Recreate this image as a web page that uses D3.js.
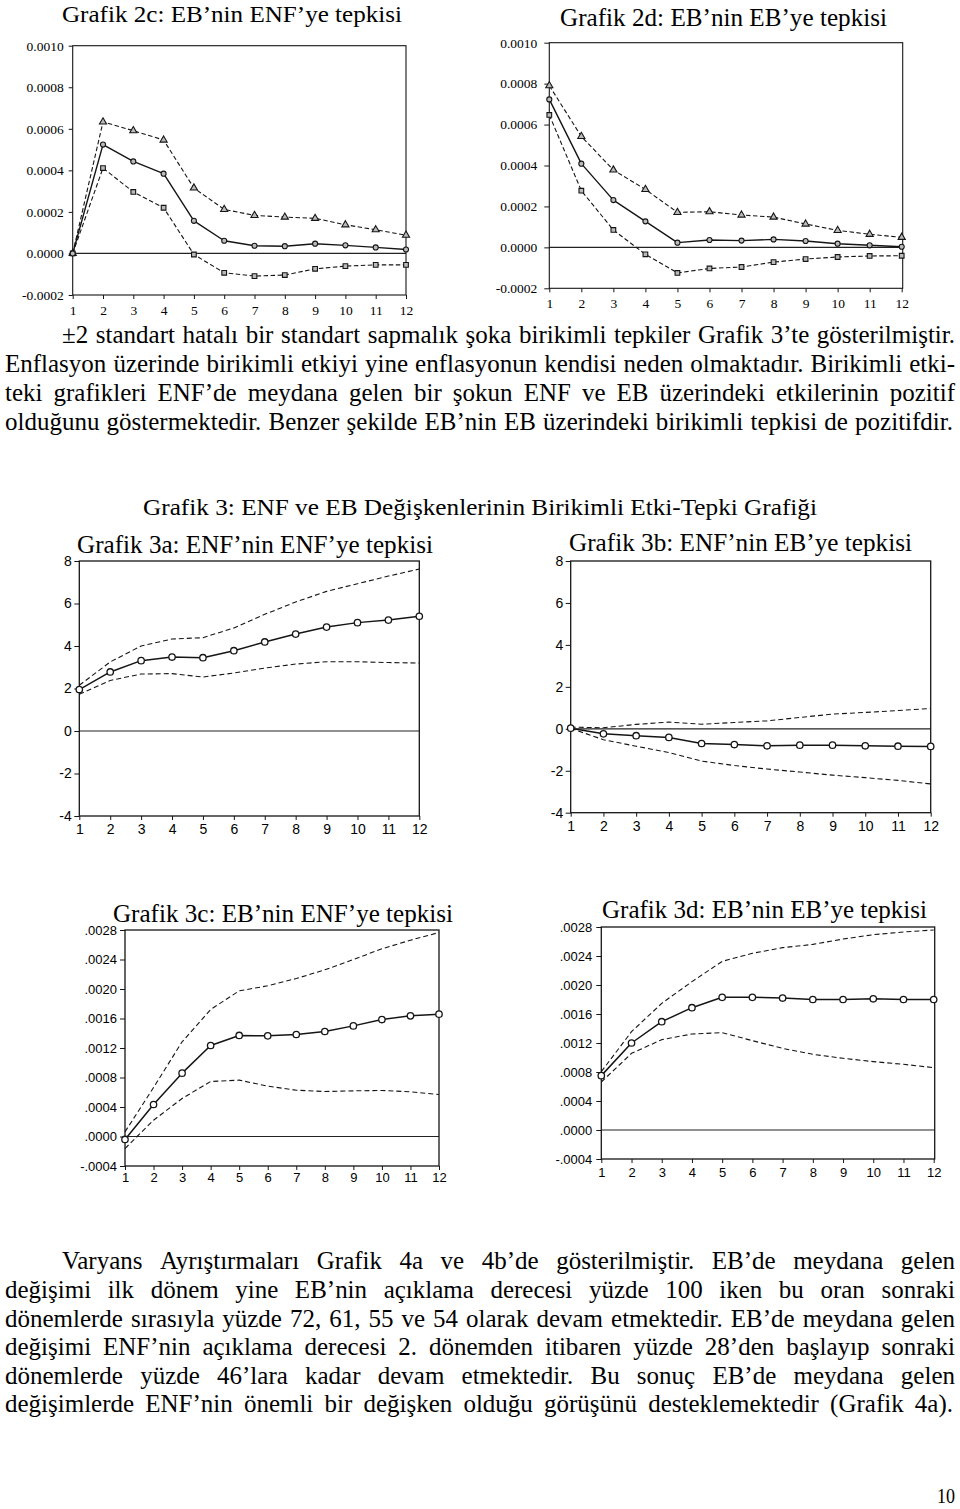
<!DOCTYPE html>
<html><head><meta charset="utf-8">
<script src="https://cdn.jsdelivr.net/npm/d3@7"></script>
<style>html,body{margin:0;padding:0;background:#fff}svg{display:block}</style>
</head><body>
<svg id="page" width="960" height="1509"></svg>
<script>
// ---------- DATA ----------
const periods = [1, 2, 3, 4, 5, 6, 7, 8, 9, 10, 11, 12];

// Grafik 2c: EB'nin ENF'ye tepkisi
const c2c_mid = [0, 0.000524, 0.000443, 0.000384, 0.000157, 0.000061, 0.000037, 0.000035, 0.000047, 0.000039, 0.000029, 0.000019];
const c2c_up  = [0, 0.000633, 0.000591, 0.000546, 0.000315, 0.000212, 0.000183, 0.000175, 0.000169, 0.000138, 0.000114, 0.000088];
const c2c_lo  = [0, 0.000411, 0.000296, 0.000220, -0.000005, -0.000093, -0.000109, -0.000104, -0.000074, -0.000061, -0.000055, -0.000055];

// Grafik 2d: EB'nin EB'ye tepkisi
const c2d_mid = [0.000723, 0.000409, 0.000231, 0.000127, 0.000023, 0.000036, 0.000033, 0.000039, 0.000031, 0.000018, 0.000010, 0.000003];
const c2d_up  = [0.000790, 0.000542, 0.000378, 0.000283, 0.000171, 0.000174, 0.000158, 0.000148, 0.000114, 0.000083, 0.000064, 0.000049];
const c2d_lo  = [0.000647, 0.000277, 0.000085, -0.000034, -0.000125, -0.000103, -0.000096, -0.000072, -0.000057, -0.000047, -0.000042, -0.000041];

// Grafik 3a: ENF'nin ENF'ye tepkisi
const c3a_mid = [1.95, 2.78, 3.31, 3.48, 3.45, 3.78, 4.19, 4.56, 4.89, 5.10, 5.22, 5.40];
const c3a_up  = [2.15, 3.25, 4.00, 4.33, 4.39, 4.85, 5.49, 6.07, 6.57, 6.93, 7.29, 7.62];
const c3a_lo  = [1.73, 2.38, 2.68, 2.70, 2.54, 2.73, 2.96, 3.15, 3.26, 3.26, 3.22, 3.20];

// Grafik 3b: ENF'nin EB'ye tepkisi
const c3b_mid = [0.03, -0.24, -0.33, -0.41, -0.70, -0.75, -0.81, -0.78, -0.78, -0.81, -0.83, -0.84];
const c3b_up  = [0.08, 0.05, 0.21, 0.32, 0.22, 0.30, 0.38, 0.54, 0.70, 0.78, 0.87, 0.97];
const c3b_lo  = [0.02, -0.52, -0.83, -1.13, -1.54, -1.75, -1.92, -2.06, -2.21, -2.33, -2.46, -2.63];

// Grafik 3c: EB'nin ENF'ye tepkisi
const c3c_mid = [-0.00004, 0.000434, 0.000859, 0.001234, 0.00137, 0.001365, 0.001383, 0.001424, 0.0015, 0.001586, 0.001636, 0.001659];
const c3c_up  = [0.000063, 0.000664, 0.001284, 0.001722, 0.001975, 0.002043, 0.002142, 0.00226, 0.0024, 0.002545, 0.002662, 0.002766];
const c3c_lo  = [-0.000163, 0.000221, 0.000515, 0.000746, 0.000764, 0.000683, 0.000628, 0.00061, 0.000619, 0.000624, 0.000606, 0.00057];

// Grafik 3d: EB'nin EB'ye tepkisi
const c3d_mid = [0.00075, 0.0012, 0.001494, 0.001687, 0.00183, 0.00183, 0.00182, 0.0018, 0.0018, 0.00181, 0.0018, 0.0018];
const c3d_up  = [0.000805, 0.001356, 0.001747, 0.002046, 0.002326, 0.002437, 0.002515, 0.00256, 0.002634, 0.002694, 0.002731, 0.002759];
const c3d_lo  = [0.000662, 0.001057, 0.001246, 0.001324, 0.001343, 0.001232, 0.001126, 0.001044, 0.000989, 0.000943, 0.000906, 0.00086];

// Tick values
const ticks2   = [-0.0002, 0, 0.0002, 0.0004, 0.0006, 0.0008, 0.0010];
const ticks3ab = [-4, -2, 0, 2, 4, 6, 8];
const ticks3cd = [-0.0004, 0, 0.0004, 0.0008, 0.0012, 0.0016, 0.0020, 0.0024, 0.0028];

// Texts
const title2c = "Grafik 2c: EB\u2019nin ENF\u2019ye tepkisi";
const title2d = "Grafik 2d: EB\u2019nin EB\u2019ye tepkisi";
const heading3 = "Grafik 3: ENF ve EB De\u011fi\u015fkenlerinin Birikimli Etki-Tepki Grafi\u011fi";
const title3a = "Grafik 3a: ENF\u2019nin ENF\u2019ye tepkisi";
const title3b = "Grafik 3b: ENF\u2019nin EB\u2019ye tepkisi";
const title3c = "Grafik 3c: EB\u2019nin ENF\u2019ye tepkisi";
const title3d = "Grafik 3d: EB\u2019nin EB\u2019ye tepkisi";
const para1 = [
  "\u00b12 standart hatal\u0131 bir standart sapmal\u0131k \u015foka birikimli tepkiler Grafik 3\u2019te g\u00f6sterilmi\u015ftir.",
  "Enflasyon \u00fczerinde birikimli etkiyi yine enflasyonun kendisi neden olmaktad\u0131r. Birikimli etki-",
  "teki grafikleri ENF\u2019de meydana gelen bir \u015fokun ENF ve EB \u00fczerindeki etkilerinin pozitif",
  "oldu\u011funu g\u00f6stermektedir. Benzer \u015fekilde EB\u2019nin EB \u00fczerindeki birikimli tepkisi de pozitifdir."
];
const para2 = [
  "Varyans Ayr\u0131\u015ft\u0131rmalar\u0131 Grafik 4a ve 4b\u2019de g\u00f6sterilmi\u015ftir. EB\u2019de meydana gelen",
  "de\u011fi\u015fimi ilk d\u00f6nem yine EB\u2019nin a\u00e7\u0131klama derecesi y\u00fczde 100 iken bu oran sonraki",
  "d\u00f6nemlerde s\u0131ras\u0131yla y\u00fczde 72, 61, 55 ve 54 olarak devam etmektedir. EB\u2019de meydana gelen",
  "de\u011fi\u015fimi ENF\u2019nin a\u00e7\u0131klama derecesi 2. d\u00f6nemden itibaren y\u00fczde 28\u2019den ba\u015flay\u0131p sonraki",
  "d\u00f6nemlerde y\u00fczde 46\u2019lara kadar devam etmektedir. Bu sonu\u00e7 EB\u2019de meydana gelen",
  "de\u011fi\u015fimlerde ENF\u2019nin \u00f6nemli bir de\u011fi\u015fken oldu\u011fu g\u00f6r\u00fc\u015f\u00fcn\u00fc desteklemektedir (Grafik 4a)."
];
const pageNumber = "10";

// ---------- DRAWING ----------
const svg = d3.select("#page");
const SERIF = "'Liberation Serif','Times New Roman',Times,serif";
const SANS = "'Liberation Sans',Arial,Helvetica,sans-serif";
const INK = "#151515";

const fmt2 = d => d.toFixed(4);
const fmt3ab = d => String(d);
const fmt3cd = d => d.toFixed(4).replace("0.", ".");

function fitText(str, x0, x1, yb, fs) {
  const t = svg.append("text")
    .attr("x", x0).attr("y", yb)
    .attr("font-family", SERIF).attr("font-size", fs).attr("fill", "#000")
    .text(str);
  if (x1 != null) t.attr("textLength", x1 - x0).attr("lengthAdjust", "spacingAndGlyphs");
  return t;
}

function justifyLine(str, x0, x1, yb, fs, hs) {
  const words = str.split(" ");
  const g = svg.append("g").attr("font-family", SERIF).attr("font-size", fs).attr("fill", "#000");
  const els = words.map(w => g.append("text").attr("y", yb).text(w));
  let widths = els.map(e => e.node().getComputedTextLength() * hs);
  const total = d3.sum(widths);
  const n = words.length;
  let gap = n > 1 ? (x1 - x0 - total) / (n - 1) : 0;
  const minGap = fs * 0.24;
  if (gap < minGap) {
    const f = (x1 - x0 - minGap * (n - 1)) / total;
    widths = widths.map(w => w * f);
    gap = minGap;
  }
  let x = x0;
  els.forEach((e, i) => {
    e.attr("x", x).attr("textLength", widths[i]).attr("lengthAdjust", "spacingAndGlyphs");
    x += widths[i] + gap;
  });
}

function drawChart(c) {
  const g = svg.append("g");
  const x = d3.scaleLinear().domain([periods[0], periods[periods.length - 1]]).range([c.x0, c.x1]);
  const y = d3.scaleLinear().domain([c.ticks[0], c.ticks[c.ticks.length - 1]]).range([c.yb, c.yt]);

  g.append("line").attr("x1", c.x0).attr("x2", c.fx1).attr("y1", y(0)).attr("y2", y(0))
    .attr("stroke", "#222").attr("stroke-width", 1.2);

  const ya = g.append("g").attr("transform", `translate(${c.x0},0)`)
    .call(d3.axisLeft(y).tickValues(c.ticks).tickFormat(c.fmt).tickSize(c.yTick).tickPadding(c.yPad));
  const xa = g.append("g").attr("transform", `translate(0,${c.yb})`)
    .call(d3.axisBottom(x).tickValues(periods).tickFormat(d3.format("d")).tickSize(c.xTick).tickPadding(c.xPad));
  [ya, xa].forEach(a => {
    a.select(".domain").remove();
    a.attr("font-family", c.font).attr("font-size", c.fs);
    a.selectAll("line").attr("stroke", INK);
    a.selectAll("text").attr("fill", "#000");
  });

  g.append("rect").attr("x", c.x0).attr("y", c.yt).attr("width", c.fx1 - c.x0).attr("height", c.yb - c.yt)
    .attr("fill", "none").attr("stroke", INK).attr("stroke-width", c.frameW);

  const line = d3.line().x((d, i) => x(periods[i])).y(d => y(d));
  const series = [
    { data: c.up, dash: c.dash, w: c.dashW, sym: d3.symbolTriangle },
    { data: c.lo, dash: c.dash, w: c.dashW, sym: d3.symbolSquare },
    { data: c.mid, dash: null, w: c.midW, sym: d3.symbolCircle }
  ];
  series.forEach(s => {
    g.append("path").attr("d", line(s.data)).attr("fill", "none")
      .attr("stroke", INK).attr("stroke-width", s.w)
      .attr("stroke-dasharray", s.dash).attr("stroke-linejoin", "round");
  });
  if (c.allMarkers) {
    series.forEach(s => {
      g.append("g").selectAll("path").data(s.data).join("path")
        .attr("transform", (d, i) => `translate(${x(periods[i])},${y(d)})`)
        .attr("d", d3.symbol().type(s.sym).size(s.sym === d3.symbolCircle ? 20 : 22))
        .attr("fill", "#bbb").attr("stroke", INK).attr("stroke-width", 1.1);
    });
  } else {
    g.append("g").selectAll("circle").data(c.mid).join("circle")
      .attr("cx", (d, i) => x(periods[i])).attr("cy", d => y(d)).attr("r", 3.2)
      .attr("fill", "#fff").attr("stroke", INK).attr("stroke-width", 1.3);
  }
}

drawChart({ x0: 72.7, x1: 406, fx1: 406, yt: 45.7, yb: 295, ticks: ticks2, fmt: fmt2,
  mid: c2c_mid, up: c2c_up, lo: c2c_lo, font: SERIF, fs: 13.5, yTick: 4, yPad: 5, xTick: 4, xPad: 6,
  dash: "4.5,2.5", dashW: 1.1, midW: 1.4, frameW: 1.1, allMarkers: true });
drawChart({ x0: 549.3, x1: 901.7, fx1: 902.7, yt: 42.7, yb: 288.3, ticks: ticks2, fmt: fmt2,
  mid: c2d_mid, up: c2d_up, lo: c2d_lo, font: SERIF, fs: 13.5, yTick: 5, yPad: 7, xTick: 4, xPad: 6,
  dash: "4.5,2.5", dashW: 1.1, midW: 1.4, frameW: 1.1, allMarkers: true });

drawChart({ x0: 79.3, x1: 419.3, fx1: 419.3, yt: 561, yb: 816, ticks: ticks3ab, fmt: fmt3ab,
  mid: c3a_mid, up: c3a_up, lo: c3a_lo, font: SANS, fs: 14, yTick: 5, yPad: 2.5, xTick: 4, xPad: 4.5,
  dash: "5,3", dashW: 1.1, midW: 1.5, frameW: 1.3, allMarkers: false });
drawChart({ x0: 570.7, x1: 930.7, fx1: 930.7, yt: 561, yb: 812.7, ticks: ticks3ab, fmt: fmt3ab,
  mid: c3b_mid, up: c3b_up, lo: c3b_lo, font: SANS, fs: 14, yTick: 5, yPad: 2.5, xTick: 4, xPad: 4.5,
  dash: "5,3", dashW: 1.1, midW: 1.5, frameW: 1.3, allMarkers: false });
drawChart({ x0: 125, x1: 439, fx1: 439, yt: 930, yb: 1166, ticks: ticks3cd, fmt: fmt3cd,
  mid: c3c_mid, up: c3c_up, lo: c3c_lo, font: SANS, fs: 13, yTick: 5, yPad: 3, xTick: 4, xPad: 2.5,
  dash: "5,3", dashW: 1.1, midW: 1.5, frameW: 1.3, allMarkers: false });
drawChart({ x0: 601.3, x1: 933.7, fx1: 934.7, yt: 927, yb: 1159, ticks: ticks3cd, fmt: fmt3cd,
  mid: c3d_mid, up: c3d_up, lo: c3d_lo, font: SANS, fs: 13, yTick: 5, yPad: 4, xTick: 4, xPad: 4.5,
  dash: "5,3", dashW: 1.1, midW: 1.5, frameW: 1.3, allMarkers: false });

// Titles
fitText(title2c, 62, 402, 22, 24);
fitText(title2d, 560, 887, 26, 24.5);
fitText(heading3, 143, 817, 515, 24);
fitText(title3a, 77, 433, 553, 25);
fitText(title3b, 569, 912, 551, 25);
fitText(title3c, 113, 453, 922, 25);
fitText(title3d, 602, 927, 918, 25);

// Paragraphs
const p1Base = [343, 372, 401, 430];
para1.forEach((s, i) => justifyLine(s, i === 0 ? 62 : 5, i === 3 ? 953 : 955, p1Base[i], 24.5, 1.02));
const p2Base = [1269, 1298, 1327, 1355, 1384, 1412];
para2.forEach((s, i) => justifyLine(s, i === 0 ? 62 : 5, i === 5 ? 953 : 955, p2Base[i], 24.5, 1.02));

fitText(pageNumber, 937, 955, 1503, 20);
</script>
</body></html>
